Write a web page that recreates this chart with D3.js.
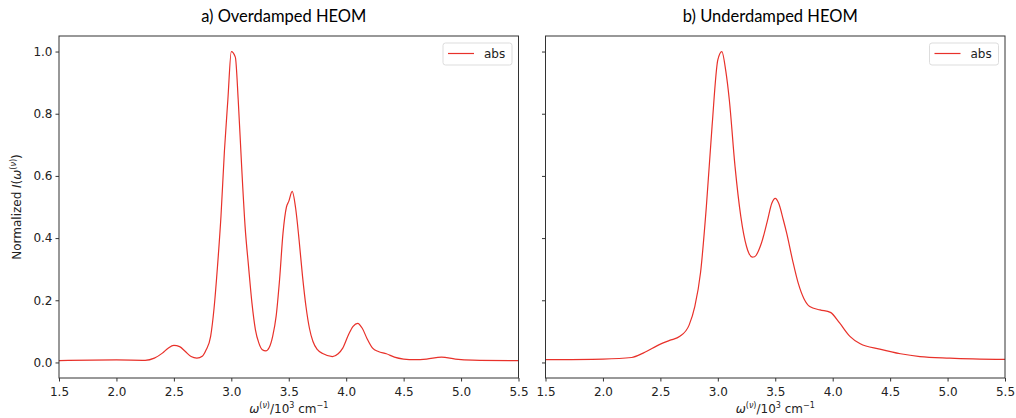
<!DOCTYPE html>
<html>
<head>
<meta charset="utf-8">
<script src="https://cdn.jsdelivr.net/npm/d3@7"></script>
<style>
  body { margin: 0; background: #fff; }
  svg text { font-family: "DejaVu Sans", sans-serif; }
</style>
</head>
<body>
<div id="chart"></div>
<script>
// frequencies (10^3 cm^-1) and normalized intensities
const overX = [1.5, 2.0, 2.25, 2.33, 2.4, 2.45, 2.5, 2.55, 2.6, 2.65, 2.7, 2.75, 2.78, 2.82, 2.85, 2.88, 2.91, 2.94, 2.97, 3.0, 3.035, 3.06, 3.09, 3.12, 3.15, 3.18, 3.21, 3.24, 3.27, 3.3, 3.33, 3.36, 3.39, 3.42, 3.45, 3.48, 3.5, 3.53, 3.56, 3.59, 3.62, 3.65, 3.68, 3.71, 3.75, 3.8, 3.88, 3.93, 3.97, 4.02, 4.06, 4.1, 4.14, 4.18, 4.23, 4.28, 4.35, 4.42, 4.5, 4.6, 4.7, 4.83, 4.95, 5.1, 5.5];
const overY = [0.006, 0.008, 0.007, 0.014, 0.03, 0.046, 0.055, 0.051, 0.035, 0.019, 0.014, 0.021, 0.04, 0.084, 0.175, 0.31, 0.47, 0.68, 0.845, 1.0, 0.982, 0.845, 0.63, 0.437, 0.309, 0.19, 0.105, 0.062, 0.041, 0.037, 0.048, 0.084, 0.148, 0.266, 0.416, 0.5, 0.518, 0.55, 0.496, 0.394, 0.277, 0.18, 0.11, 0.068, 0.041, 0.028, 0.019, 0.028, 0.046, 0.089, 0.116, 0.126, 0.11, 0.078, 0.046, 0.035, 0.028, 0.017, 0.011, 0.009, 0.011, 0.017, 0.011, 0.0075, 0.006];

const underX = [1.5, 2.0, 2.25, 2.35, 2.5, 2.58, 2.67, 2.75, 2.8, 2.85, 2.9, 2.95, 3.0, 3.035, 3.07, 3.1, 3.15, 3.2, 3.25, 3.3, 3.32, 3.38, 3.43, 3.47, 3.5, 3.53, 3.57, 3.6, 3.65, 3.7, 3.75, 3.8, 3.89, 3.98, 4.06, 4.15, 4.24, 4.41, 4.59, 4.76, 5.02, 5.5];
const underY = [0.009, 0.011, 0.016, 0.03, 0.059, 0.071, 0.084, 0.12, 0.18, 0.29, 0.5, 0.76, 0.973, 1.0, 0.936, 0.845, 0.63, 0.47, 0.373, 0.339, 0.34, 0.384, 0.453, 0.512, 0.528, 0.512, 0.459, 0.415, 0.33, 0.255, 0.205, 0.18, 0.169, 0.161, 0.127, 0.084, 0.06, 0.043, 0.028, 0.019, 0.014, 0.0096];

const xTicks = [1.5, 2.0, 2.5, 3.0, 3.5, 4.0, 4.5, 5.0, 5.5];
const yTicks = [0.0, 0.2, 0.4, 0.6, 0.8, 1.0];

const panels = [
  {title: "a) Overdamped HEOM", xs: overX, ys: overY, left: 59, yLabels: true},
  {title: "b) Underdamped HEOM", xs: underX, ys: underY, left: 545.5, yLabels: false}
];

const W = 1016, H = 418;
const plotTop = 36, plotBottom = 378, pw = 459.5;
const lineColor = "#e8312a";

const svg = d3.select("#chart").append("svg")
  .attr("width", W).attr("height", H);

const y = d3.scaleLinear().domain([-0.05, 1.05]).range([plotBottom, plotTop]);

panels.forEach(p => {
  const x = d3.scaleLinear().domain([1.5, 5.5]).range([p.left, p.left + pw]);
  const g = svg.append("g");

  // x axis
  g.append("g")
    .attr("transform", `translate(0,${plotBottom})`)
    .call(d3.axisBottom(x).tickValues(xTicks).tickFormat(d3.format(".1f")).tickSize(3.5).tickSizeOuter(0))
    .call(a => a.select(".domain").remove())
    .selectAll("text").attr("font-size", 12).attr("fill", "#222").attr("dy", "0.95em");

  // y axis
  g.append("g")
    .attr("transform", `translate(${p.left},0)`)
    .call(d3.axisLeft(y).tickValues(yTicks).tickFormat(p.yLabels ? d3.format(".1f") : "").tickSize(3.5).tickSizeOuter(0))
    .call(a => a.select(".domain").remove())
    .selectAll("text").attr("font-size", 12).attr("fill", "#222");

  g.selectAll(".tick line").attr("stroke", "#333");

  // curve
  const line = d3.line()
    .x((d, i) => x(p.xs[i]))
    .y(d => y(d))
    .curve(d3.curveMonotoneX);

  g.append("path")
    .datum(p.ys)
    .attr("d", line)
    .attr("fill", "none")
    .attr("stroke", lineColor)
    .attr("stroke-width", 1.2);

  // frame
  g.append("rect")
    .attr("x", p.left).attr("y", plotTop)
    .attr("width", pw).attr("height", plotBottom - plotTop)
    .attr("fill", "none").attr("stroke", "#333").attr("stroke-width", 1);

  // title
  g.append("text")
    .attr("x", p.left + pw / 2 - 5).attr("y", 22)
    .attr("text-anchor", "middle")
    .style("font-family", "Lato, sans-serif")
    .attr("font-size", 16.5).attr("fill", "#000")
    .text(p.title);

  // x label
  const xl = g.append("text")
    .attr("x", p.left + pw / 2).attr("y", 413)
    .attr("text-anchor", "middle")
    .attr("font-size", 12).attr("fill", "#222");
  xl.append("tspan").attr("font-style", "italic").text("ω");
  xl.append("tspan").attr("font-size", 8).attr("dy", -5).text("(");
  xl.append("tspan").attr("font-size", 8).attr("font-style", "italic").text("ν");
  xl.append("tspan").attr("font-size", 8).text(")");
  xl.append("tspan").attr("dy", 5).text("/10");
  xl.append("tspan").attr("font-size", 8).attr("dy", -5).text("3");
  xl.append("tspan").attr("dy", 5).text(" cm");
  xl.append("tspan").attr("font-size", 8).attr("dy", -5).text("−1");

  // legend
  const lx = p.left + pw - 75.5, ly = plotTop + 7;
  g.append("rect")
    .attr("x", lx).attr("y", ly).attr("width", 69).attr("height", 22).attr("rx", 2.5)
    .attr("fill", "#fff").attr("stroke", "#ddd");
  g.append("line")
    .attr("x1", lx + 5).attr("x2", lx + 31).attr("y1", ly + 10.5).attr("y2", ly + 10.5)
    .attr("stroke", lineColor).attr("stroke-width", 1.2);
  g.append("text")
    .attr("x", lx + 41).attr("y", ly + 15)
    .attr("font-size", 12).attr("fill", "#222")
    .text("abs");
});

// y label
const yl = svg.append("text")
  .attr("transform", "translate(21,207) rotate(-90)")
  .attr("text-anchor", "middle")
  .attr("font-size", 12).attr("fill", "#222");
yl.append("tspan").text("Normalized ");
yl.append("tspan").attr("font-style", "italic").text("I");
yl.append("tspan").text("(");
yl.append("tspan").attr("font-style", "italic").text("ω");
yl.append("tspan").attr("font-size", 8).attr("dy", -5).text("(");
yl.append("tspan").attr("font-size", 8).attr("font-style", "italic").text("ν");
yl.append("tspan").attr("font-size", 8).text(")");
yl.append("tspan").attr("dy", 5).text(")");
</script>
</body>
</html>
